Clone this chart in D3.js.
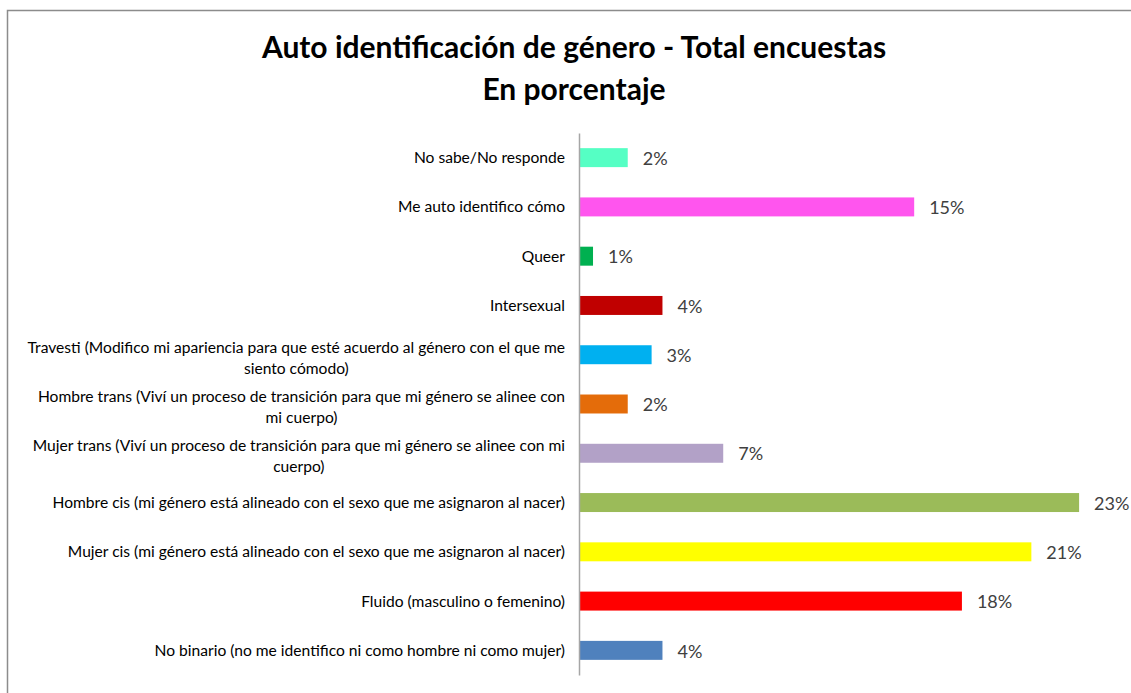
<!DOCTYPE html>
<meta charset="utf-8">
<style>
  body { margin: 0; background: #fff; }
  svg { display: block; }
</style>
<svg width="1131" height="693"></svg>
<script src="https://d3js.org/d3.v7.min.js"></script>
<script>

// data, top to bottom as drawn
var categories = [
  "No sabe/No responde",
  "Me auto identifico cómo",
  "Queer",
  "Intersexual",
  "Travesti (Modifico mi apariencia para que esté acuerdo al género con el que me siento cómodo)",
  "Hombre trans (Viví un proceso de transición para que mi género se alinee con mi cuerpo)",
  "Mujer trans (Viví un proceso de transición para que mi género se alinee con mi cuerpo)",
  "Hombre cis (mi género está alineado con el sexo que me asignaron al nacer)",
  "Mujer cis (mi género está alineado con el sexo que me asignaron al nacer)",
  "Fluido (masculino o femenino)",
  "No binario (no me identifico ni como hombre ni como mujer)"
];
var values = [2.2, 15.4, 0.6, 3.8, 3.3, 2.2, 6.6, 23.0, 20.8, 17.6, 3.8];
var colors = ["#55FFC4", "#FF55EE", "#00B050", "#C00000", "#00B0F0", "#E46C0A",
              "#B2A1C7", "#9BBB59", "#FFFF00", "#FF0000", "#4F81BD"];
var titleLines = ["Auto identificación de género - Total encuestas", "En porcentaje"];

var svg = d3.select("svg"),
    width = +svg.attr("width"),
    height = +svg.attr("height");

var font = "Lato, 'Open Sans', sans-serif";
var plotLeft = 580, plotTop = 133, plotBottom = 675, pxPerUnit = 21.7;

var data = categories.map(function(c, i) {
  return { name: c, value: values[i], color: colors[i] };
});

// chart frame
svg.append("rect")
    .attr("x", 7.5)
    .attr("y", 10.5)
    .attr("width", width + 20)
    .attr("height", height + 20)
    .attr("fill", "#fff")
    .attr("stroke", "#8c8c8c")
    .attr("stroke-width", 1.5);

svg.append("g")
    .attr("font-family", font)
    .attr("font-weight", "bold")
    .attr("font-size", 30)
    .attr("text-anchor", "middle")
    .attr("fill", "#000")
  .selectAll("text")
  .data(titleLines)
  .enter().append("text")
    .attr("x", 574)
    .attr("y", function(d, i) { return 58 + i * 42; })
    .text(function(d) { return d; });

var x = d3.scaleLinear()
    .domain([0, 25])
    .range([plotLeft, plotLeft + 25 * pxPerUnit]);

var y = d3.scaleBand()
    .domain(categories)
    .range([plotTop, plotBottom])
    .paddingInner(0.615)
    .paddingOuter(0.3075);

svg.append("g")
    .selectAll("rect")
    .data(data)
    .enter().append("rect")
      .attr("x", x(0))
      .attr("y", function(d) { return y(d.name); })
      .attr("width", function(d) { return x(d.value) - x(0); })
      .attr("height", y.bandwidth())
      .attr("fill", function(d) { return d.color; });

// axis line only
var axis = svg.append("g")
    .attr("transform", "translate(" + (plotLeft - 1) + ",0)")
    .call(d3.axisLeft(y).tickSize(0).tickSizeOuter(0).tickFormat(""));
axis.select(".domain").attr("stroke", "#a6a6a6").attr("stroke-width", 1.5);

// value labels
svg.append("g")
    .attr("font-family", font)
    .attr("font-size", 18)
    .attr("fill", "#404040")
  .selectAll("text")
  .data(data)
  .enter().append("text")
    .attr("x", function(d) { return x(d.value) + 15; })
    .attr("y", function(d) { return y(d.name) + y.bandwidth() / 2; })
    .attr("dy", "0.4em")
    .text(function(d) { return d3.format(".0f")(d.value) + "%"; });

// category labels, wrapped and centred on their longest line
var labelRight = 565, wrapWidth = 542, lineHeight = 21;

var labels = svg.append("g")
    .attr("font-family", font)
    .attr("font-size", 15.6)
    .attr("fill", "#000")
  .selectAll("text")
  .data(data)
  .enter().append("text");

labels.each(function(d) {
  var text = d3.select(this),
      words = d.name.split(" "),
      lines = [], line = [];
  var probe = text.append("tspan");
  words.forEach(function(w) {
    line.push(w);
    probe.text(line.join(" "));
    if (probe.node().getComputedTextLength() > wrapWidth && line.length > 1) {
      line.pop();
      lines.push(line.join(" "));
      line = [w];
    }
  });
  lines.push(line.join(" "));
  var widest = 0;
  lines.forEach(function(l) {
    probe.text(l);
    widest = Math.max(widest, probe.node().getComputedTextLength());
  });
  probe.remove();
  var cy = y(d.name) + y.bandwidth() / 2,
      top = cy - (lines.length - 1) * lineHeight / 2 + (lines.length > 1 ? 3 : 0);
  text.attr("text-anchor", "middle");
  lines.forEach(function(l, i) {
    text.append("tspan")
        .attr("x", labelRight - widest / 2)
        .attr("y", top + i * lineHeight)
        .attr("dy", "0.35em")
        .text(l);
  });
});

</script>
